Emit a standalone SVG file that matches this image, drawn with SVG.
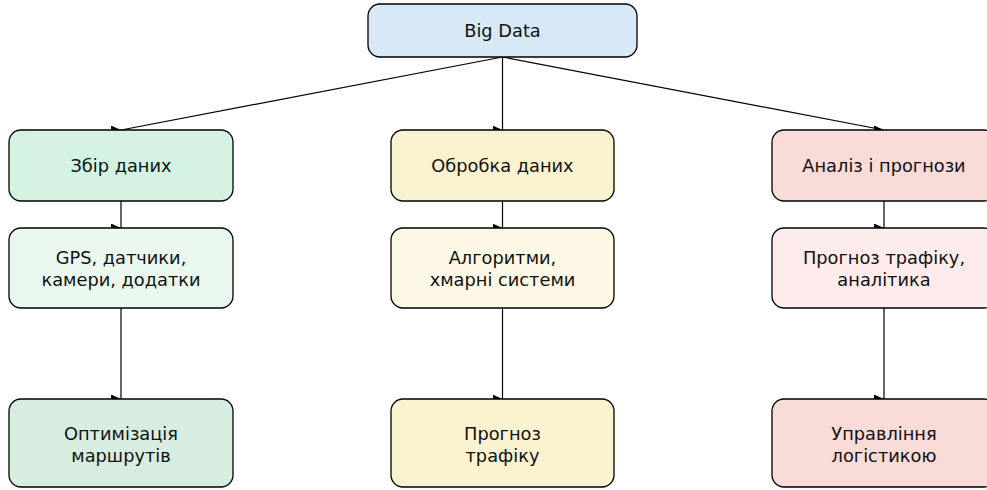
<svg xmlns="http://www.w3.org/2000/svg" width="987" height="490" viewBox="0 0 987 490">
<defs>
<marker id="ah" markerWidth="11" markerHeight="9" refX="10" refY="4.5" orient="0" markerUnits="userSpaceOnUse">
<path d="M0,0 L10,4.5 L0,9 Z" fill="#000"/>
</marker>
<style>
.n{stroke:#000;stroke-width:1.3}
.t{font-family:"DejaVu Sans",sans-serif;font-size:17.8px;fill:#111;text-anchor:middle;dominant-baseline:central}
.c{stroke:#000;stroke-width:1.2;fill:none;marker-end:url(#ah)}
</style>
</defs>
<rect width="987" height="490" fill="#fff"/>
<g id="connectors">
<path class="c" d="M502.5,57 L121,130"/>
<path class="c" d="M502.5,57 L502.5,130"/>
<path class="c" d="M502.5,57 L884,130"/>
<path class="c" d="M121,201 L121,228"/>
<path class="c" d="M121,308 L121,399"/>
<path class="c" d="M502.5,201 L502.5,228"/>
<path class="c" d="M502.5,308 L502.5,399"/>
<path class="c" d="M884,201 L884,228"/>
<path class="c" d="M884,308 L884,399"/>
</g>
<g id="bigdata"><rect class="n" x="368" y="4" width="269" height="53" rx="12" fill="#d7e9f7"/><text class="t" x="502.5" y="30.5">Big Data</text></g>
<g id="zbir"><rect class="n" x="9" y="130" width="224" height="71" rx="12" fill="#d4f3e3"/><text class="t" x="121" y="165.5">Збір даних</text></g>
<g id="gps"><rect class="n" x="9" y="228" width="224" height="80" rx="12" fill="#ebf8f0"/><text class="t" x="121" y="257">GPS, датчики,</text><text class="t" x="121" y="279">камери, додатки</text></g>
<g id="optym"><rect class="n" x="9" y="399" width="224" height="88" rx="12" fill="#d6ede0"/><text class="t" x="121" y="433">Оптимізація</text><text class="t" x="121" y="455">маршрутів</text></g>
<g id="obrobka"><rect class="n" x="391" y="130" width="223" height="71" rx="12" fill="#fbf2cf"/><text class="t" x="502.5" y="165.5">Обробка даних</text></g>
<g id="alg"><rect class="n" x="391" y="228" width="223" height="80" rx="12" fill="#fef8e7"/><text class="t" x="502.5" y="257">Алгоритми,</text><text class="t" x="502.5" y="279">хмарні системи</text></g>
<g id="prognoz"><rect class="n" x="391" y="399" width="223" height="88" rx="12" fill="#fbf2cf"/><text class="t" x="502.5" y="433">Прогноз</text><text class="t" x="502.5" y="455">трафіку</text></g>
<g id="analiz"><rect class="n" x="772" y="130" width="224" height="71" rx="12" fill="#f9dbd8"/><text class="t" x="884" y="165.5">Аналіз і прогнози</text></g>
<g id="prtraf"><rect class="n" x="772" y="228" width="224" height="80" rx="12" fill="#fdeceb"/><text class="t" x="884" y="257">Прогноз трафіку,</text><text class="t" x="884" y="279">аналітика</text></g>
<g id="uprav"><rect class="n" x="772" y="399" width="224" height="88" rx="12" fill="#f9dbd8"/><text class="t" x="884" y="433">Управління</text><text class="t" x="884" y="455">логістикою</text></g>
</svg>
